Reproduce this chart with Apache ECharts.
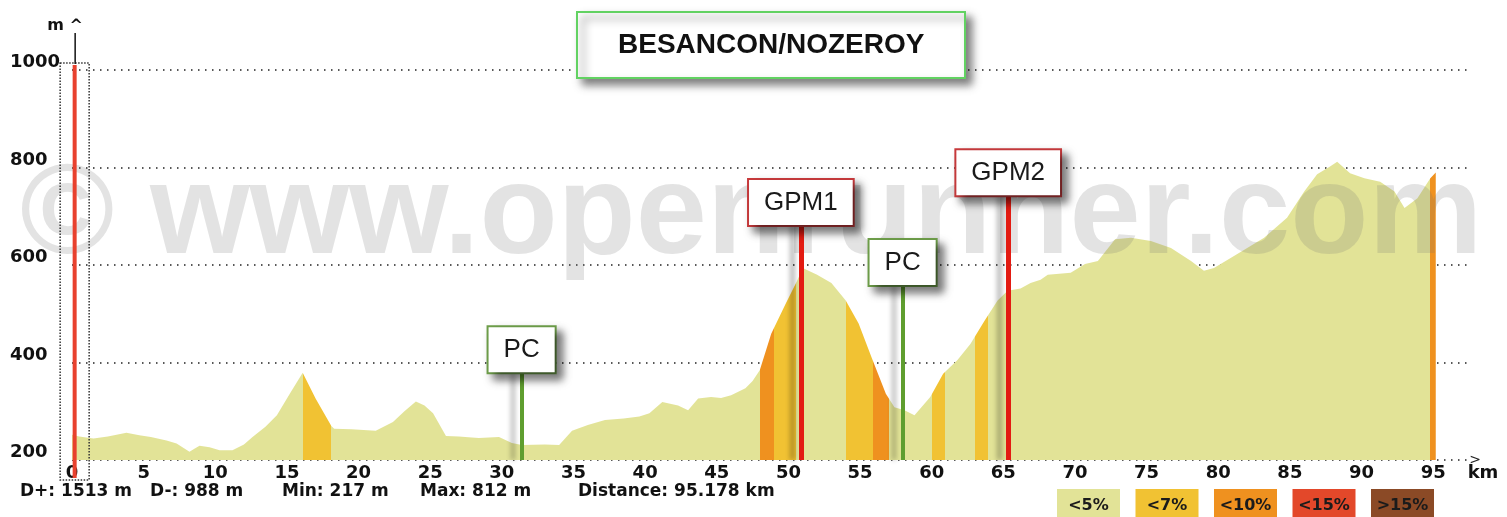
<!DOCTYPE html>
<html>
<head>
<meta charset="utf-8">
<title>BESANCON/NOZEROY</title>
<script src="https://cdn.jsdelivr.net/npm/echarts@6/dist/echarts.min.js"></script>
<style>
  html, body { margin: 0; padding: 0; background: #fff; }
  #main { width: 1507px; height: 517px; }
</style>
</head>
<body>
<div id="main"></div>
<script>
// profil : distance (km) / altitude (m)
var distKm = [0, 0.5, 1.5, 2.5, 3.8, 4.7, 5.5, 6.6, 7.3, 8.2, 8.6, 8.9, 9.6, 10.3, 11.2, 12.0, 12.6, 13.5, 14.3, 15.2,
  16.1, 17.0, 18.1, 18.3, 19.5, 21.2, 22.4, 23.2, 24.0, 24.6, 25.2, 26.1, 27.0, 27.9, 28.4, 29.8, 30.7, 31.4, 33.0, 34.0,
  34.9, 36.0, 37.2, 38.5, 39.6, 40.3, 41.2, 42.3, 43.0, 43.7, 44.6, 45.3, 46.0, 47.0, 47.5, 48.0, 48.8, 49.8, 50.6, 51.0,
  52.0, 53.0, 54.0, 54.9, 55.8, 56.8, 57.4, 58.1, 58.8, 59.9, 60.8, 61.8, 62.7, 63.7, 64.6, 65.3, 66.2, 66.9, 67.6, 68.1,
  69.7, 70.7, 71.6, 72.8, 73.9, 75.3, 76.7, 78.1, 79.0, 79.7, 81.3, 83.2, 84.8, 86.0, 86.9, 87.8, 88.3, 89.2, 90.2, 91.3,
  92.3, 93.0, 93.9, 94.8, 95.18];
var altitude = [252, 248, 244, 248, 256, 251, 247, 240, 234, 217, 224, 229, 226, 220, 220, 232, 247, 268, 292, 336,
  379, 326, 270, 264, 263, 260, 278, 300, 320, 312, 296, 249, 248, 246, 245, 247, 235, 231, 232, 231,
  260, 272, 282, 285, 289, 296, 319, 312, 302, 326, 329, 327, 333, 347, 362, 384, 459, 520, 567, 594,
  580, 563, 527, 480, 411, 336, 308, 302, 292, 329, 377, 405, 438, 486, 527, 547, 552, 563, 570, 580,
  584, 602, 608, 653, 656, 649, 635, 608, 588, 594, 622, 656, 697, 751, 786, 802, 812, 788, 778, 771,
  751, 717, 737, 778, 790];

// tronçons de pente : bornes (km) et classe
var slopeBreaks = [0, 16.1, 18.1, 48.0, 49.0, 50.5, 54.0, 55.9, 57.0, 60.0, 60.9, 63.0, 63.9, 94.8, 95.2];
var slopeClass = [0, 1, 0, 2, 1, 0, 1, 2, 0, 1, 0, 1, 0, 2];
var slopeLabels = ['<5%', '<7%', '<10%', '<15%', '>15%'];
var slopeColors = ['#e2e397', '#f1c233', '#ef911f', '#e3482a', '#8b4a26'];

// points remarquables
var poiName = ['PC', 'GPM1', 'PC', 'GPM2'];
var poiKm = [31.38, 50.87, 57.97, 65.34];
var poiTop = [380, 682, 559, 743];

var cursorKm = 0.15;
var statTexts = ['D+: 1513 m', 'D-: 988 m', 'Min: 217 m', 'Max: 812 m', 'Distance: 95.178 km'];

var profile = distKm.map(function (d, i) { return [d, altitude[i]]; });

var pieces = [];
for (var i = 0; i < slopeClass.length; i++) {
  pieces.push({ gte: slopeBreaks[i], lt: slopeBreaks[i + 1], color: slopeColors[slopeClass[i]] });
}

var poiLines = poiKm.map(function (km, i) {
  var gpm = poiName[i].indexOf('GPM') === 0;
  return [
    {
      coord: [km, 200], name: poiName[i],
      lineStyle: { color: gpm ? '#e31b12' : '#5f9e2f', width: gpm ? 5 : 4 },
      label: { borderColor: gpm ? '#c83a3c' : '#6e9e4a' }
    },
    { coord: [km, poiTop[i]] }
  ];
});

var boldFont = 'DejaVu Sans';
var graphics = [{
  type: 'text', x: 20, y: 218, z: 3, silent: true,
  style: {
    text: '\u00a9 www.openrunner.com', fill: 'rgba(115,115,115,0.2)',
    font: 'bold 128px "Liberation Sans", Arial', verticalAlign: 'middle', align: 'left'
  }
}];

var statLeft = [20, 150, 282, 420, 578];
statTexts.forEach(function (t, i) {
  graphics.push({
    type: 'text', x: statLeft[i], y: 492, z: 10, silent: true,
    style: { text: t, fill: '#111', font: 'bold 17px "' + boldFont + '"', verticalAlign: 'middle' }
  });
});

slopeLabels.forEach(function (t, i) {
  var x = 1057 + i * 78.5;
  graphics.push({
    type: 'rect', z: 10, silent: true,
    shape: { x: x, y: 489, width: 63, height: 32 },
    style: { fill: slopeColors[i] }
  });
  graphics.push({
    type: 'text', x: x + 31.5, y: 506, z: 11, silent: true,
    style: { text: t, fill: '#1b1b1b', font: 'bold 16px "' + boldFont + '"', align: 'center', verticalAlign: 'middle' }
  });
});

var option = {
  backgroundColor: '#fff',
  animation: false,
  title: {
    text: 'BESANCON/NOZEROY', left: 577, top: 12,
    padding: [19, 41], backgroundColor: '#fff', borderColor: '#62d262', borderWidth: 2,
    shadowColor: 'rgba(0,0,0,0.5)', shadowBlur: 8, shadowOffsetX: 6, shadowOffsetY: 6,
    textStyle: { fontFamily: 'Liberation Sans', fontWeight: 'bold', fontSize: 28, lineHeight: 28, color: '#111' }
  },
  grid: { left: 72, right: 38, top: 70, bottom: 57, containLabel: false, outerBoundsMode: 'none' },
  xAxis: {
    type: 'value', min: 0, max: 97.5, interval: 5,
    axisLine: { show: false }, axisTick: { show: false }, splitLine: { show: false },
    axisLabel: {
      showMaxLabel: false, margin: 4, color: '#111',
      fontFamily: boldFont, fontWeight: 'bold', fontSize: 18,
      formatter: function (v) { return v <= 95 ? String(v) : ''; }
    },
    name: '{a|>}\n{b|km}', nameLocation: 'end', nameGap: 14,
    nameTextStyle: {
      align: 'center', verticalAlign: 'middle', padding: [18, 0, 0, 0],
      rich: {
        a: { fontFamily: boldFont, fontSize: 14, lineHeight: 8, color: '#222', padding: [0, 16, 0, 0] },
        b: { fontFamily: boldFont, fontWeight: 'bold', fontSize: 18, lineHeight: 18, color: '#111' }
      }
    }
  },
  yAxis: {
    type: 'value', min: 200, max: 1000, interval: 200,
    axisLine: { show: false }, axisTick: { show: false },
    splitLine: { lineStyle: { color: '#222', type: [1.5, 5.5], width: 1.5 } },
    axisLabel: {
      align: 'left', margin: 62, verticalAlign: 'bottom', lineHeight: 15,
      color: '#111', fontFamily: boldFont, fontWeight: 'bold', fontSize: 18,
      formatter: function (v) { return String(v); }
    },
    name: 'm ^', nameLocation: 'end', nameGap: 36,
    nameTextStyle: { align: 'center', padding: [0, 14, 0, 0], color: '#111', fontFamily: boldFont, fontWeight: 'bold', fontSize: 16 }
  },
  visualMap: {
    show: false, type: 'piecewise', dimension: 0, seriesIndex: 0,
    pieces: pieces, outOfRange: { color: slopeColors[0] }
  },
  series: [{
    type: 'line', data: profile, showSymbol: false, symbol: 'none', silent: true, z: 2,
    lineStyle: { width: 0 },
    areaStyle: { opacity: 1 },
    markLine: {
      symbol: 'none', silent: true, animation: false,
      lineStyle: { type: 'solid', shadowColor: 'rgba(0,0,0,0.28)', shadowBlur: 5, shadowOffsetX: -9 },
      label: {
        show: true, position: 'end', distance: 0, formatter: '{b}',
        color: '#1a1a1a', fontFamily: 'Liberation Sans', fontSize: 26, lineHeight: 26,
        backgroundColor: '#fff', borderWidth: 2, padding: [10, 15, 9, 15],
        shadowColor: 'rgba(0,0,0,0.5)', shadowBlur: 8, shadowOffsetX: 6, shadowOffsetY: 6
      },
      emphasis: { disabled: true },
      data: poiLines
    }
  }],
  graphic: graphics
};

var chart = echarts.init(document.getElementById('main'));
chart.setOption(option);

// curseur de position et flèche de l'axe des altitudes
var pTop = chart.convertToPixel({ gridIndex: 0 }, [cursorKm, 1000]);
var pBot = chart.convertToPixel({ gridIndex: 0 }, [cursorKm, 200]);
graphics.push({
  type: 'rect', z: 10, silent: true,
  shape: { x: pTop[0] - 14, y: pTop[1] - 7, width: 29, height: pBot[1] - pTop[1] + 27 },
  style: { fill: null, stroke: '#333', lineWidth: 1.5, lineDash: [1.5, 1.5] }
});
graphics.push({
  type: 'line', z: 11, silent: true,
  shape: { x1: pTop[0] + 0.5, y1: pTop[1] - 5, x2: pTop[0] + 0.5, y2: pBot[1] + 18 },
  style: { stroke: '#e8412e', lineWidth: 4 }
});
graphics.push({
  type: 'line', z: 11, silent: true,
  shape: { x1: pTop[0] + 1, y1: pTop[1] - 37, x2: pTop[0] + 1, y2: pTop[1] - 6 },
  style: { stroke: '#111', lineWidth: 1.5 }
});
chart.setOption({ graphic: graphics });
</script>
</body>
</html>
